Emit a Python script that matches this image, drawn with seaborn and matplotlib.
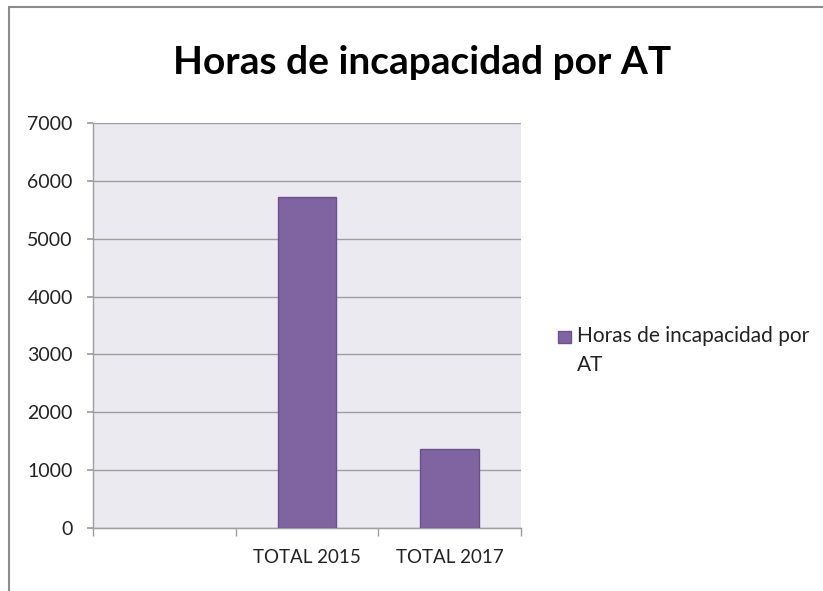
import numpy as np
import pandas as pd
import matplotlib
matplotlib.use("Agg")
import matplotlib.pyplot as plt
from matplotlib.lines import Line2D
from matplotlib.patches import Rectangle
from matplotlib.container import BarContainer
from matplotlib.legend_handler import HandlerPatch, update_from_first_child
import seaborn as sns

# data
categories = ["", "TOTAL 2015", "TOTAL 2017"]
horas = [np.nan, 5720, 1365]
serie = "Horas de incapacidad por AT"

df = pd.DataFrame({"cat": categories, "horas": horas})

sns.set_theme(style="white")
plt.rcParams["font.family"] = ["Lato", "DejaVu Sans"]

fig = plt.figure(figsize=(8.23, 5.91), dpi=100, facecolor="white")
ax = fig.add_axes([93 / 823, 1 - 528 / 591, (521 - 93) / 823, (528 - 123) / 591])
ax.set_facecolor("#ECEAF1")

sns.barplot(data=df, x="cat", y="horas", order=categories, color="#8064A2",
            saturation=1, width=0.41, edgecolor="#6A5290", linewidth=1,
            label=serie, ax=ax, zorder=3)

ax.set_ylim(0, 7000)
ax.set_xlim(-0.5, 2.5)
ax.set_yticks(range(0, 7001, 1000))
ax.yaxis.grid(True, color="#9E9E9E", linewidth=1)
ax.set_axisbelow(True)
ax.set_xlabel("")
ax.set_ylabel("")

for s in ["top", "right"]:
    ax.spines[s].set_visible(False)
for s in ["left", "bottom"]:
    ax.spines[s].set_color("#9E9E9E")
    ax.spines[s].set_linewidth(1)

ax.tick_params(axis="y", left=True, length=4.5, color="#9E9E9E", labelsize=14,
               labelcolor="#222222", pad=10)
ax.tick_params(axis="x", which="major", bottom=False, labelsize=13.5,
               labelcolor="#222222", pad=9)
ax.set_xticks([-0.5, 0.5, 1.5, 2.5], minor=True)
ax.tick_params(axis="x", which="minor", bottom=True, length=6, color="#9E9E9E")

fig.suptitle(serie, x=422 / 823, y=1 - 45 / 591, fontsize=28, fontweight="bold",
             color="black", va="top")


# square sitting next to the first line of the wrapped label
def top_square(legend, orig_handle, xdescent, ydescent, width, height, fontsize):
    return Rectangle((-xdescent, -ydescent + height - width + 2), width, width)


handles, labels = ax.get_legend_handles_labels()
if ax.get_legend() is not None:
    ax.get_legend().remove()
leg = fig.legend(handles, ["Horas de incapacidad por\nAT"], loc="upper left",
                 bbox_to_anchor=(539 / 823, 1 - 307 / 591), frameon=False,
                 fontsize=15, handlelength=0.62, handleheight=2.4,
                 handletextpad=0.3, labelcolor="#222222",
                 handler_map={BarContainer: HandlerPatch(
                     patch_func=top_square, update_func=update_from_first_child)})
for t in leg.get_texts():
    t.set_linespacing(1.6)

# outer chart frame (only top and left edges show)
fig.add_artist(Line2D([9 / 823, 9 / 823], [0, 1 - 7 / 591], color="#8C8C8C",
                      linewidth=1.5, transform=fig.transFigure))
fig.add_artist(Line2D([9 / 823, 1], [1 - 7 / 591, 1 - 7 / 591], color="#8C8C8C",
                      linewidth=1.5, transform=fig.transFigure))

fig.savefig("out.png", dpi=100, facecolor="white")
